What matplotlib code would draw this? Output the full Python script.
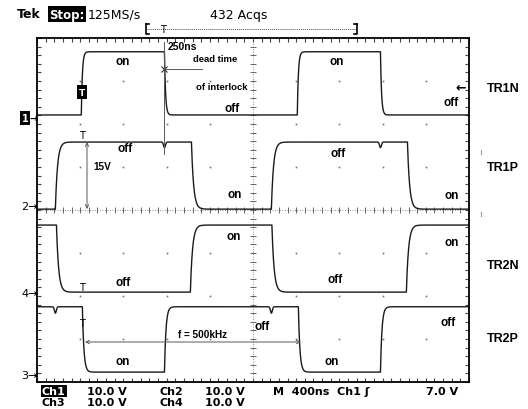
import numpy as np
import matplotlib.pyplot as plt

# scope settings
ns_per_div = 400
n_xdiv, n_ydiv = 10, 8
volt_per_div = 10.0

# traces (read from the screen): ground position in div, high level in V,
# state at left edge, switching times in ns
names = ['TR1N', 'TR1P', 'TR2N', 'TR2P']
gnd_div = [6.21, 4.02, 2.09, 0.23]
high_V = [14.7, 15.6, 15.6, 15.2]
start_high = [False, False, True, True]
edges_ns = [[410, 1180, 2410, 3180],
            [170, 1430, 2170, 3430],
            [180, 1420, 2175, 3420],
            [420, 1180, 2420, 3180]]
tau_ns = [10, 20, 20, 14]
# small crosstalk dips (time ns, depth V)
glitches = [[],
            [(1180, -1.3), (3180, -1.3)],
            [],
            [(170, -1.5), (2170, -1.5)]]

dead_time_ns = 250
f_period_ns = 2000

fig = plt.figure(figsize=(5.28, 4.10), dpi=100)
W, H = 528, 410
ax = fig.add_axes([37 / W, (H - 383) / H, 432 / W, 344 / H])
ax.set_xlim(0, n_xdiv * ns_per_div)
ax.set_ylim(0, n_ydiv)

# graticule
for s in ax.spines.values():
    s.set_linewidth(1.3)
ax.set_xticks(np.arange(0, n_xdiv * ns_per_div + 1, ns_per_div / 5))
ax.set_yticks(np.arange(0, n_ydiv + 0.01, 0.2))
ax.tick_params(direction='in', length=3, width=0.8, colors='0.25',
               top=True, right=True, labelbottom=False, labelleft=False)
for i in range(1, n_xdiv):
    for j in range(1, n_ydiv):
        ax.plot(i * ns_per_div, j, 's', ms=1.2, color='0.45', mec='none')
xc = n_xdiv * ns_per_div / 2
yc = n_ydiv / 2
ax.axvline(xc, color='0.45', lw=0.6, ls=(0, (1, 2)))
ax.axhline(yc, color='0.45', lw=0.6, ls=(0, (1, 2)))
ax.plot(np.full(n_ydiv * 5 + 1, xc), np.arange(0, n_ydiv + 0.01, 0.2), '_',
        ms=4, mew=0.7, color='0.4')
ax.plot(np.arange(0, n_xdiv * ns_per_div + 1, ns_per_div / 5),
        np.full(n_xdiv * 5 + 1, yc), '|', ms=4, mew=0.7, color='0.4')

# waveforms
t = np.linspace(0, n_xdiv * ns_per_div, 4001)
for k in range(4):
    v = np.full_like(t, high_V[k] if start_high[k] else 0.0)
    state = start_high[k]
    for te in edges_ns[k]:
        dv = -high_V[k] if state else high_V[k]
        on = t >= te
        v[on] += dv * (1 - np.exp(-(t[on] - te) / tau_ns[k]))
        state = not state
    for tg, dg in glitches[k]:
        v += dg * np.exp(-((t - tg) / 12.0) ** 2)
    ax.plot(t, gnd_div[k] + v / volt_per_div, color='#1a1a1a', lw=1.0)

# annotation lines (data coordinates)
t_dead = edges_ns[0][1]
ax.plot([t_dead, t_dead], [7.91, 5.30], color='0.35', lw=0.7)
ax.plot(t_dead, 7.28, 'x', ms=5, mew=0.8, color='0.2')
ax.plot([t_dead, t_dead + 350], [7.28, 7.28], color='0.35', lw=0.7)
t15 = 463
ax.annotate('', xy=(t15, gnd_div[1] + high_V[1] / volt_per_div),
            xytext=(t15, gnd_div[1]),
            arrowprops=dict(arrowstyle='<->', color='0.35', lw=0.7,
                            shrinkA=0, shrinkB=0, mutation_scale=6))
tf = 444
ax.annotate('', xy=(tf + f_period_ns, 0.93), xytext=(tf, 0.93),
            arrowprops=dict(arrowstyle='<->', color='0.35', lw=0.7,
                            shrinkA=0, shrinkB=0, mutation_scale=6))

# overlay in pixel coordinates for the text
ov = fig.add_axes([0, 0, 1, 1])
ov.set_xlim(0, W)
ov.set_ylim(H, 0)
ov.axis('off')
ov.patch.set_alpha(0)

ann = dict(family='Liberation Sans', weight='bold', ha='center', va='center')
labels = [('on', 123, 62), ('off', 232, 109), ('on', 337, 62), ('off', 451, 103),
          ('off', 125, 149), ('off', 338, 154), ('on', 235, 195), ('on', 452, 196),
          ('on', 234, 237), ('on', 452, 243), ('off', 123, 283), ('off', 335, 280),
          ('off', 262, 327), ('off', 448, 323), ('on', 123, 362), ('on', 332, 362)]
for s, x, y in labels:
    ov.text(x, y, s, size=8.5, **ann)
ov.text(168, 47, '250ns', size=7.5, **{**ann, 'ha': 'left'})
ov.text(193, 60, 'dead time', size=6.8, **{**ann, 'ha': 'left'})
ov.text(196, 87, 'of interlock', size=6.8, **{**ann, 'ha': 'left'})
ov.text(102, 167, '15V', size=7.2, **ann)
ov.text(203, 335, 'f = 500kHz', size=7.2, **ann)
for s, y in zip(names, [89, 168, 266, 339]):
    ov.text(503, y, s, size=9, **ann)

# cursors / trigger markers
ov.text(82, 93, 'T', size=6.5, color='white', weight='bold', ha='center', va='center',
        bbox=dict(facecolor='black', edgecolor='none', boxstyle='square,pad=0.25'))
for y in [136, 288, 324]:
    ov.text(82, y, 'T', size=7, color='black', ha='center', va='center')
ov.text(466, 88, '\u2190', size=9, weight='bold', ha='right', va='center')

# ground markers
ov.text(25, 119, '1', size=7, color='white', weight='bold', ha='center', va='center',
        bbox=dict(facecolor='black', edgecolor='none', boxstyle='square,pad=0.2'))
ov.text(37.5, 119, '\u2192', size=7, weight='bold', ha='right', va='center')
for s, y in [('2', 207), ('4', 294), ('3', 376)]:
    ov.text(37.5, y, s + '\u2192', size=8, ha='right', va='center')
for y in [153, 215]:
    ov.plot([481, 481], [y - 2, y + 2], color='0.6', lw=0.8)

# header
ov.text(17, 15, 'Tek', size=9, weight='bold', va='center')
ov.text(49, 15, 'Stop:', size=8.5, weight='bold', color='white', va='center',
        bbox=dict(facecolor='black', edgecolor='none', boxstyle='square,pad=0.12'))
ov.text(88, 15, '125MS/s', size=9, va='center')
ov.text(210, 15, '432 Acqs', size=9, va='center')
ov.plot([147, 357], [30, 30], color='0.3', lw=0.7, ls=(0, (1, 1)))
ov.plot([146, 146, 149], [25, 35, 35], color='black', lw=1.2)
ov.plot([146, 149], [25, 25], color='black', lw=1.2)
ov.plot([357, 357, 354], [25, 35, 35], color='black', lw=1.2)
ov.plot([357, 354], [25, 25], color='black', lw=1.2)
ov.text(163, 30, 'T', size=7, ha='center', va='center')

# footer
ft = dict(size=8, weight='bold', va='center')
ov.text(42, 392, 'Ch1', color='white',
        bbox=dict(facecolor='black', edgecolor='none', boxstyle='square,pad=0.1'), **ft)
ov.text(42, 403, 'Ch3', **ft)
for y in [392, 403]:
    ov.text(87, y, '10.0 V', **ft)
    ov.text(205, y, '10.0 V', **ft)
ov.text(160, 392, 'Ch2', **ft)
ov.text(160, 403, 'Ch4', **ft)
ov.text(273, 392, 'M  400ns  Ch1 \u0283', **ft)
ov.text(458, 392, '7.0 V', ha='right', **{k: v for k, v in ft.items()})

fig.savefig('out.png', dpi=100)
